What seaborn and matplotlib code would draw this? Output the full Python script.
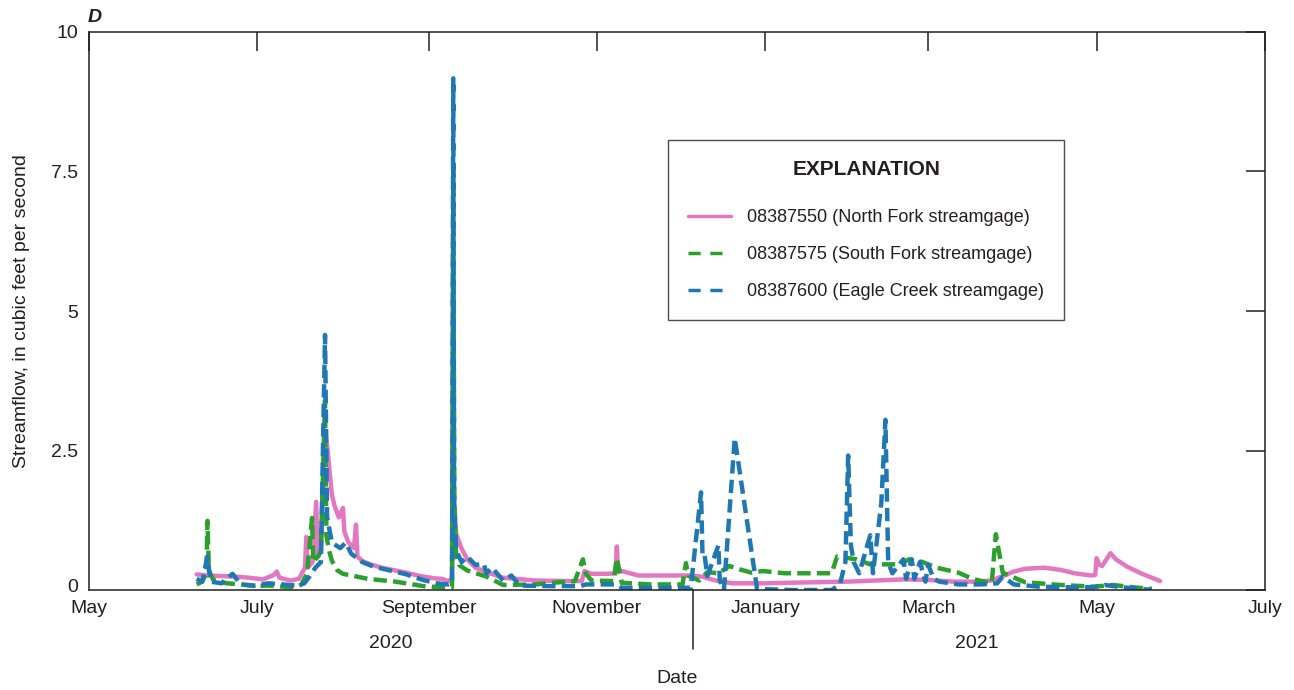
import matplotlib
matplotlib.use("Agg")
import matplotlib.pyplot as plt
import matplotlib.dates as mdates
import matplotlib.transforms as mtransforms
from matplotlib.lines import Line2D
import pandas as pd
import seaborn as sns

# ---- streamflow readings, cubic feet per second ----
north_dates = [
    "2020-06-09", "2020-06-13", "2020-06-18", "2020-06-23", "2020-06-28",
    "2020-07-03", "2020-07-07", "2020-07-08", "2020-07-09", "2020-07-13",
    "2020-07-16", "2020-07-18 06:00", "2020-07-18 17:00", "2020-07-19 06:00",
    "2020-07-21", "2020-07-22 07:00", "2020-07-22 20:00", "2020-07-24",
    "2020-07-25 12:00", "2020-07-26 06:00", "2020-07-27", "2020-07-28",
    "2020-07-29", "2020-07-30 12:00", "2020-08-01", "2020-08-01 12:00",
    "2020-08-02", "2020-08-03", "2020-08-05", "2020-08-05 17:00",
    "2020-08-06 06:00", "2020-08-08", "2020-08-11", "2020-08-15",
    "2020-08-20", "2020-08-24", "2020-08-29", "2020-09-03", "2020-09-06",
    "2020-09-08", "2020-09-09 12:00", "2020-09-09 22:00", "2020-09-10 06:00",
    "2020-09-11", "2020-09-13", "2020-09-15", "2020-09-18", "2020-09-22",
    "2020-09-28", "2020-10-05", "2020-10-10", "2020-10-22",
    "2020-10-26 12:00", "2020-10-27 12:00", "2020-10-30", "2020-11-05",
    "2020-11-07 18:00", "2020-11-08 05:00", "2020-11-08 14:00", "2020-11-10",
    "2020-11-16", "2020-11-28", "2020-12-04", "2020-12-09", "2020-12-14",
    "2020-12-20",
    "2021-01-01", "2021-01-10", "2021-01-20", "2021-01-31", "2021-02-10",
    "2021-02-20", "2021-03-01", "2021-03-10", "2021-03-18", "2021-03-24",
    "2021-03-28", "2021-04-01", "2021-04-05", "2021-04-12", "2021-04-18",
    "2021-04-23", "2021-04-29", "2021-04-30 12:00", "2021-05-01",
    "2021-05-02", "2021-05-03", "2021-05-06", "2021-05-08", "2021-05-12",
    "2021-05-17", "2021-05-22", "2021-05-24",
]
north_flow = [
    0.28, 0.26, 0.25, 0.24, 0.22,
    0.19, 0.27, 0.33, 0.22, 0.17,
    0.20, 0.40, 0.95, 0.40,
    0.50, 1.58, 0.60, 0.70,
    2.85, 2.60, 2.20, 1.70,
    1.50, 1.30, 1.47, 1.05,
    0.98, 0.85, 0.75, 1.17,
    0.60, 0.52, 0.46, 0.40,
    0.35, 0.31, 0.25, 0.21, 0.20,
    0.16, 0.20, 2.80, 1.60,
    1.00, 0.74, 0.55, 0.40, 0.32,
    0.22, 0.19, 0.17, 0.16,
    0.16, 0.34, 0.29, 0.29,
    0.30, 0.78, 0.36, 0.34,
    0.26, 0.26, 0.26, 0.24, 0.17,
    0.12,
    0.12, 0.13, 0.14, 0.15, 0.17,
    0.19, 0.18, 0.15, 0.15, 0.17,
    0.25, 0.33, 0.38, 0.40, 0.36,
    0.30, 0.26, 0.27, 0.57,
    0.45, 0.43, 0.66, 0.55, 0.42,
    0.30, 0.20, 0.16,
]

south_dates = [
    "2020-06-09", "2020-06-11", "2020-06-12 12:00", "2020-06-12 22:00",
    "2020-06-13 10:00", "2020-06-15", "2020-06-20", "2020-06-25",
    "2020-06-30", "2020-07-05", "2020-07-10", "2020-07-15", "2020-07-17",
    "2020-07-19", "2020-07-20 19:00", "2020-07-21 06:00", "2020-07-22",
    "2020-07-23", "2020-07-24", "2020-07-25 12:00", "2020-07-26",
    "2020-07-27", "2020-07-28", "2020-07-30", "2020-08-01", "2020-08-05",
    "2020-08-10", "2020-08-20", "2020-08-30", "2020-09-05",
    "2020-09-09 12:00", "2020-09-09 23:00", "2020-09-10 08:00",
    "2020-09-11", "2020-09-12", "2020-09-15", "2020-09-22", "2020-09-28",
    "2020-10-10", "2020-10-16", "2020-10-24", "2020-10-26 22:00",
    "2020-10-28", "2020-10-30", "2020-11-07", "2020-11-08 05:00",
    "2020-11-10", "2020-11-20", "2020-12-02", "2020-12-03 06:00",
    "2020-12-04", "2020-12-08", "2020-12-11", "2020-12-15",
    "2020-12-19", "2020-12-22", "2020-12-27", "2020-12-31",
    "2021-01-08", "2021-01-18", "2021-01-25", "2021-01-27", "2021-02-03",
    "2021-02-08", "2021-02-14", "2021-02-19", "2021-02-22", "2021-02-27",
    "2021-03-04", "2021-03-12", "2021-03-17", "2021-03-24",
    "2021-03-25 12:00", "2021-03-28", "2021-04-05", "2021-04-18",
    "2021-04-30", "2021-05-07", "2021-05-14", "2021-05-21",
]
south_flow = [
    0.10, 0.15, 0.30, 1.24,
    0.35, 0.18, 0.12, 0.10,
    0.07, 0.08, 0.06, 0.05, 0.10,
    0.30, 1.29, 0.50, 0.55,
    0.60, 0.70, 3.40, 0.98,
    0.70, 0.52, 0.35, 0.29, 0.25,
    0.20, 0.15, 0.07, 0.05,
    0.05, 7.60, 1.60,
    0.60, 0.45, 0.35, 0.24, 0.09,
    0.10, 0.13, 0.16, 0.55,
    0.29, 0.17, 0.16, 0.57,
    0.13, 0.10, 0.10, 0.48,
    0.26, 0.17, 0.32, 0.30,
    0.43, 0.38, 0.31, 0.34,
    0.30, 0.30, 0.30, 0.60, 0.55,
    0.46, 0.46, 0.46, 0.55, 0.50,
    0.40, 0.31, 0.20, 0.12,
    1.00, 0.31, 0.14, 0.09,
    0.06, 0.09, 0.05, 0.02,
]

eagle_dates = [
    "2020-06-09", "2020-06-11", "2020-06-12 22:00", "2020-06-14",
    "2020-06-18", "2020-06-22", "2020-06-25", "2020-06-30", "2020-07-05",
    "2020-07-10", "2020-07-15", "2020-07-18", "2020-07-20", "2020-07-22",
    "2020-07-24", "2020-07-25 12:00", "2020-07-26 06:00", "2020-07-28",
    "2020-07-31", "2020-08-02", "2020-08-04", "2020-08-08", "2020-08-12",
    "2020-08-18", "2020-08-24", "2020-08-30", "2020-09-04", "2020-09-08",
    "2020-09-09 12:00", "2020-09-09 23:00", "2020-09-10 06:00",
    "2020-09-11", "2020-09-13", "2020-09-15", "2020-09-18", "2020-09-21",
    "2020-09-22", "2020-09-24", "2020-09-28", "2020-10-01", "2020-10-04",
    "2020-10-15", "2020-10-26", "2020-10-28", "2020-11-08", "2020-11-10",
    "2020-12-05", "2020-12-08 17:00", "2020-12-09 06:00",
    "2020-12-10", "2020-12-11", "2020-12-15", "2020-12-15 12:00",
    "2020-12-17", "2020-12-20 22:00", "2020-12-29", "2021-01-10",
    "2021-01-25", "2021-01-28", "2021-01-30", "2021-01-31",
    "2021-02-01", "2021-02-02", "2021-02-04", "2021-02-08", "2021-02-09",
    "2021-02-12", "2021-02-13 12:00", "2021-02-14 12:00", "2021-02-16",
    "2021-02-20", "2021-02-21", "2021-02-23", "2021-02-24", "2021-02-26",
    "2021-02-28", "2021-03-01", "2021-03-03", "2021-03-05", "2021-03-12",
    "2021-03-20", "2021-03-26", "2021-03-28", "2021-04-01", "2021-04-10",
    "2021-04-20", "2021-04-30", "2021-05-04", "2021-05-10", "2021-05-21",
]
eagle_flow = [
    0.20, 0.15, 0.60, 0.15,
    0.12, 0.29, 0.10, 0.08, 0.12,
    0.10, 0.08, 0.12, 0.25, 0.40,
    0.50, 4.57, 1.30, 0.85,
    0.75, 0.85, 0.65, 0.50, 0.42,
    0.35, 0.28, 0.18, 0.12, 0.10,
    0.12, 9.17, 1.50,
    0.70, 0.50, 0.60, 0.45, 0.47,
    0.30, 0.40, 0.17, 0.26, 0.08,
    0.07, 0.07, 0.10, 0.10, 0.04,
    0.04, 1.75, 0.60,
    0.62, 0.25, 0.80, 0.17,
    0.00, 2.72, 0.02, 0.00,
    0.00, 0.10, 0.50, 2.41,
    0.80, 0.50, 0.30, 0.98, 0.30,
    1.55, 3.05, 0.50, 0.30,
    0.55, 0.20, 0.55, 0.20, 0.50,
    0.15, 0.45, 0.20, 0.15, 0.10,
    0.10, 0.12, 0.24, 0.10, 0.06,
    0.05, 0.05, 0.09, 0.05, 0.00,
]

site_labels = [
    "08387550 (North Fork streamgage)",
    "08387575 (South Fork streamgage)",
    "08387600 (Eagle Creek streamgage)",
]
y_ticks = [0, 2.5, 5, 7.5, 10]
y_tick_labels = ["0", "2.5", "5", "7.5", "10"]

colors = {site_labels[0]: "#e377c2", site_labels[1]: "#2ca02c", site_labels[2]: "#1f77b4"}
dash_pat = (3.0, 1.4)
dashes = {site_labels[0]: "", site_labels[1]: dash_pat, site_labels[2]: dash_pat}

frames = []
for site, d, v in zip(site_labels, [north_dates, south_dates, eagle_dates],
                      [north_flow, south_flow, eagle_flow]):
    frames.append(pd.DataFrame({"date": pd.to_datetime(d, format="mixed"),
                                "flow": v, "site": site}))
df = pd.concat(frames, ignore_index=True)

sns.set_style("white")
FONT = ["Liberation Sans", "DejaVu Sans"]
plt.rcParams["font.family"] = FONT
plt.rcParams["text.color"] = "#231f20"
plt.rcParams["axes.labelcolor"] = "#231f20"
plt.rcParams["xtick.color"] = "#231f20"
plt.rcParams["ytick.color"] = "#231f20"

fig = plt.figure(figsize=(12.94, 6.9), dpi=100)
ax = fig.add_axes([89 / 1294, 1 - 590 / 690, 1176 / 1294, 558 / 690])

sns.lineplot(data=df, x="date", y="flow", hue="site", style="site",
             palette=colors, dashes=dashes, hue_order=site_labels,
             style_order=site_labels, estimator=None, linewidth=3.2,
             legend=False, ax=ax)

ax.set_xlim(pd.Timestamp("2020-05-01"), pd.Timestamp("2021-07-01"))
ax.set_ylim(0, 10)
ax.set_yticks(y_ticks)
ax.set_yticklabels(y_tick_labels)
ax.xaxis.set_major_locator(mdates.MonthLocator(bymonth=[1, 3, 5, 7, 9, 11]))
ax.xaxis.set_major_formatter(mdates.DateFormatter("%B"))

for s in ax.spines.values():
    s.set_linewidth(1.1)
    s.set_color("#231f20")
ax.tick_params(axis="both", which="major", direction="in", length=13.5,
               width=1.1, labelsize=14, top=True, right=True,
               labeltop=False, labelright=False)
ax.tick_params(axis="x", pad=7.5)
ax.tick_params(axis="y", pad=8)

# lift the zero label a little so it clears the first month name
zero_lbl = ax.get_yticklabels()[0]
zero_lbl.set_transform(zero_lbl.get_transform() +
                       mtransforms.ScaledTranslation(0, 3 / 72, fig.dpi_scale_trans))

ax.set_xlabel("Date", fontsize=14, labelpad=38)
ax.set_ylabel("Streamflow, in cubic feet per second", fontsize=14, labelpad=15)

# year labels and the divider between years
ax.text(0.2568, -0.095, "2020", transform=ax.transAxes, ha="center",
        va="center", fontsize=14)
ax.text(0.755, -0.095, "2021", transform=ax.transAxes, ha="center",
        va="center", fontsize=14)
ax.plot([0.5134, 0.5134], [0, -0.106], transform=ax.transAxes,
        color="#231f20", linewidth=1.1, clip_on=False)

fig.text(95 / 1294, 1 - 17 / 690, "D", fontsize=14, fontweight="bold",
         fontstyle="italic", ha="center", va="center")

handles = [Line2D([], [], color=colors[s], linewidth=2.5,
                  linestyle="-" if dashes[s] == "" else (0, (3.5, 2.8)))
           for s in site_labels]
leg = ax.legend(handles, site_labels, title="EXPLANATION", loc="upper left",
                bbox_to_anchor=(668 / 1294, 1 - 140 / 690),
                bbox_transform=fig.transFigure, fontsize=13.0,
                title_fontproperties={"weight": "bold", "size": 15, "family": FONT},
                frameon=True, fancybox=False, edgecolor="#231f20",
                handlelength=2.4, handletextpad=0.9, labelspacing=1.1,
                borderpad=1.1, borderaxespad=0)
leg.get_frame().set_linewidth(1.0)
leg._legend_box.sep = 22

fig.savefig("out.png", dpi=100)
